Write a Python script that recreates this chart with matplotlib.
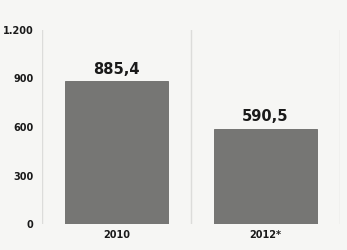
import matplotlib.pyplot as plt
from matplotlib.ticker import FuncFormatter

years = ['2010', '2012*']
values = [885.4, 590.5]
value_labels = ['885,4', '590,5']
yticks = [0, 300, 600, 900, 1200]

fig = plt.figure(figsize=(3.47, 2.5), dpi=100, facecolor='#f6f6f4')
ax = fig.add_axes([42 / 347, 26 / 250, 298 / 347, 194 / 250])
ax.set_facecolor('#f6f6f4')

x = range(len(years))
ax.bar(x, values, width=0.69, color='#767674', edgecolor='#6a6a68', linewidth=0.6, zorder=2)

for xi, v, lab in zip(x, values, value_labels):
    ax.text(xi, v + 25, lab, ha='center', va='bottom', fontsize=10.5, fontweight='bold', color='#1a1a1a')

ax.set_xlim(-0.5, 1.5)
ax.set_ylim(0, 1200)
ax.set_xticks(list(x))
ax.set_xticklabels(years, fontsize=7, fontweight='bold', color='#1a1a1a')
ax.set_yticks(yticks)
ax.yaxis.set_major_formatter(FuncFormatter(lambda v, p: f'{int(v):,}'.replace(',', '.')))
for lab in ax.get_yticklabels():
    lab.set_fontsize(7)
    lab.set_fontweight('bold')
    lab.set_color('#1a1a1a')
ax.tick_params(length=0, pad=6)
ax.tick_params(axis='x', pad=4)

# category separators
ax.set_xticks([-0.5, 0.5, 1.5], minor=True)
ax.grid(axis='x', which='minor', color='#dcdcda', linewidth=1)
ax.tick_params(which='minor', length=0)
for s in ['top', 'right', 'bottom', 'left']:
    ax.spines[s].set_visible(False)

fig.savefig('out.png', dpi=100, facecolor=fig.get_facecolor())
